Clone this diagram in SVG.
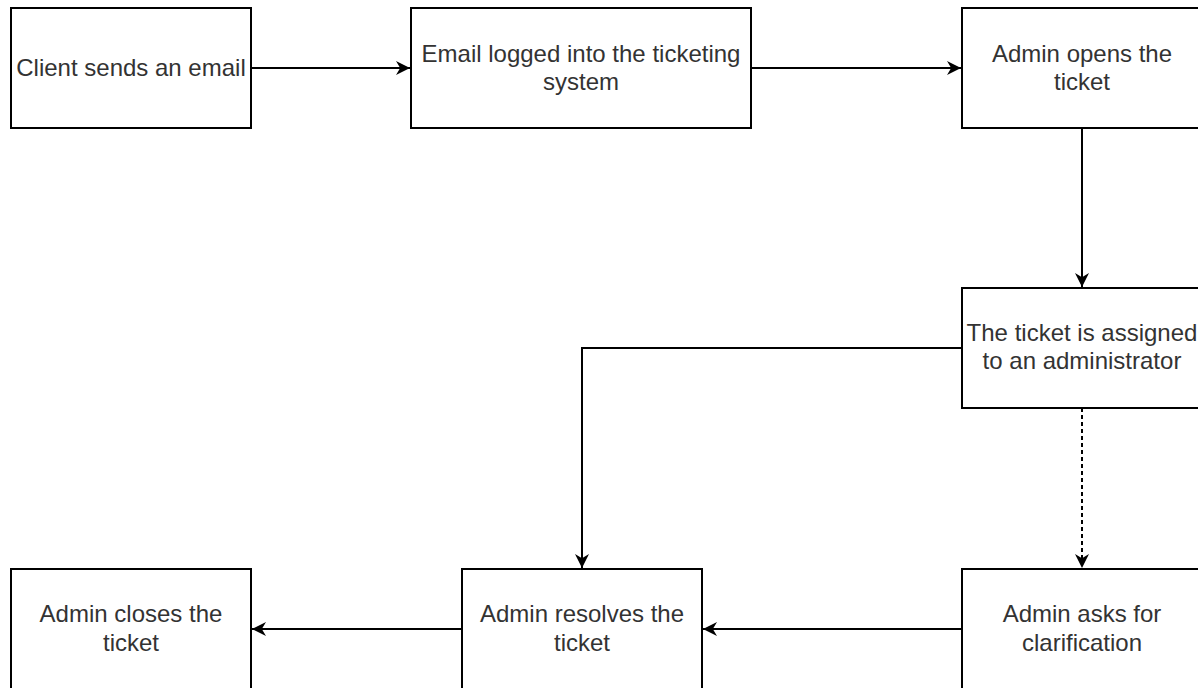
<svg xmlns="http://www.w3.org/2000/svg" width="1198" height="688" viewBox="0 0 1198 688">
<defs>
<style>
.box{fill:#ffffff;stroke:#000000;stroke-width:2}
.lbl{font-family:"Liberation Sans",Arial,sans-serif;font-size:24px;fill:#333333;text-anchor:middle}
.edge{fill:none;stroke:#000000;stroke-width:2}
.dash{stroke-dasharray:4 3}
</style>
<marker id="arr" viewBox="0 0 10 10" refX="10" refY="5" markerWidth="7" markerHeight="7" markerUnits="strokeWidth" orient="auto">
<path d="M0,0 L10,5 L0,10 L3,5 Z" fill="#000000"/>
</marker>
</defs>
<rect width="1198" height="688" fill="#ffffff"/>
<g id="connectors">
<path class="edge" d="M251,68 L410,68" marker-end="url(#arr)"/>
<path class="edge" d="M751,68 L961,68" marker-end="url(#arr)"/>
<path class="edge" d="M1082,128 L1082,287" marker-end="url(#arr)"/>
<path class="edge" d="M962,348 L582,348 L582,568" marker-end="url(#arr)"/>
<path class="edge dash" d="M1082,408 L1082,568" marker-end="url(#arr)"/>
<path class="edge" d="M962,629 L703,629" marker-end="url(#arr)"/>
<path class="edge" d="M462,629 L252,629" marker-end="url(#arr)"/>
</g>
<g id="n1">
<rect class="box" x="11" y="8" width="240" height="120"/>
<text class="lbl" x="131" y="76">Client sends an email</text>
</g>
<g id="n2">
<rect class="box" x="411" y="8" width="340" height="120"/>
<text class="lbl" x="581" y="62">Email logged into the ticketing</text>
<text class="lbl" x="581" y="90">system</text>
</g>
<g id="n3">
<rect class="box" x="962" y="8" width="240" height="120"/>
<text class="lbl" x="1082" y="62">Admin opens the</text>
<text class="lbl" x="1082" y="90">ticket</text>
</g>
<g id="n4">
<rect class="box" x="962" y="288" width="240" height="120"/>
<text class="lbl" x="1082" y="341">The ticket is assigned</text>
<text class="lbl" x="1082" y="369">to an administrator</text>
</g>
<g id="n5">
<rect class="box" x="962" y="569" width="240" height="120"/>
<text class="lbl" x="1082" y="622">Admin asks for</text>
<text class="lbl" x="1082" y="651">clarification</text>
</g>
<g id="n6">
<rect class="box" x="462" y="569" width="240" height="120"/>
<text class="lbl" x="582" y="622">Admin resolves the</text>
<text class="lbl" x="582" y="651">ticket</text>
</g>
<g id="n7">
<rect class="box" x="11" y="569" width="240" height="120"/>
<text class="lbl" x="131" y="622">Admin closes the</text>
<text class="lbl" x="131" y="651">ticket</text>
</g>
</svg>
